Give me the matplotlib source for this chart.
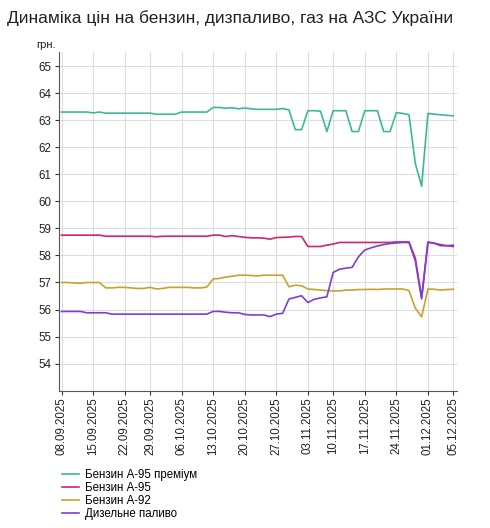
import matplotlib
matplotlib.use('Agg')
import matplotlib.pyplot as plt

# Дані (індекс робочого дня -> ціна, грн.)
tick_idx = [0, 5, 10, 14, 19, 24, 29, 34, 39, 43, 48, 53, 58, 62]
tick_labels = ['08.09.2025', '15.09.2025', '22.09.2025', '29.09.2025', '06.10.2025',
               '13.10.2025', '20.10.2025', '27.10.2025', '03.11.2025', '10.11.2025',
               '17.11.2025', '24.11.2025', '01.12.2025', '05.12.2025']

a95_premium = [63.30, 63.30, 63.30, 63.30, 63.30, 63.27, 63.30, 63.26, 63.26, 63.26,
               63.26, 63.26, 63.26, 63.26, 63.26, 63.22, 63.22, 63.22, 63.22, 63.30,
               63.30, 63.30, 63.30, 63.30, 63.47, 63.47, 63.44, 63.46, 63.42, 63.45,
               63.42, 63.40, 63.40, 63.40, 63.40, 63.43, 63.38, 62.65, 62.65, 63.35,
               63.35, 63.33, 62.58, 63.35, 63.35, 63.35, 62.58, 62.58, 63.35, 63.35,
               63.35, 62.58, 62.58, 63.28, 63.25, 63.20, 61.40, 60.56, 63.25, 63.22,
               63.20, 63.18, 63.16]

a95 = [58.75, 58.75, 58.75, 58.75, 58.75, 58.75, 58.75, 58.71, 58.71, 58.71,
       58.71, 58.71, 58.71, 58.71, 58.71, 58.69, 58.71, 58.71, 58.71, 58.71,
       58.71, 58.71, 58.71, 58.71, 58.75, 58.75, 58.70, 58.73, 58.70, 58.67,
       58.65, 58.65, 58.64, 58.60, 58.66, 58.67, 58.68, 58.70, 58.70, 58.33,
       58.33, 58.33, 58.38, 58.42, 58.48, 58.48, 58.48, 58.48, 58.48, 58.48,
       58.48, 58.48, 58.48, 58.50, 58.50, 58.50, 57.90, 56.45, 58.50, 58.45,
       58.40, 58.36, 58.33]

a92 = [57.00, 57.00, 56.98, 56.97, 57.00, 57.00, 57.00, 56.80, 56.80, 56.82,
       56.82, 56.80, 56.78, 56.78, 56.82, 56.76, 56.78, 56.82, 56.82, 56.82,
       56.82, 56.80, 56.80, 56.83, 57.13, 57.15, 57.20, 57.23, 57.27, 57.27,
       57.26, 57.24, 57.27, 57.27, 57.27, 57.27, 56.84, 56.90, 56.88, 56.76,
       56.74, 56.72, 56.70, 56.69, 56.69, 56.72, 56.72, 56.74, 56.74, 56.75,
       56.74, 56.76, 56.76, 56.76, 56.76, 56.70, 56.05, 55.73, 56.76, 56.75,
       56.72, 56.74, 56.75]

diesel = [55.93, 55.93, 55.93, 55.93, 55.88, 55.88, 55.88, 55.88, 55.83, 55.83,
          55.83, 55.83, 55.83, 55.83, 55.83, 55.83, 55.83, 55.83, 55.83, 55.83,
          55.83, 55.83, 55.83, 55.83, 55.93, 55.93, 55.90, 55.88, 55.88, 55.82,
          55.80, 55.80, 55.80, 55.74, 55.83, 55.86, 56.39, 56.45, 56.51, 56.26,
          56.38, 56.43, 56.47, 57.37, 57.49, 57.53, 57.56, 57.95, 58.20, 58.28,
          58.35, 58.40, 58.44, 58.46, 58.48, 58.48, 57.80, 56.39, 58.48, 58.45,
          58.36, 58.36, 58.38]

series = [
    ('Бензин А-95 преміум', a95_premium, '#3bb99a'),
    ('Бензин А-95', a95, '#d0256c'),
    ('Бензин А-92', a92, '#c9a22c'),
    ('Дизельне паливо', diesel, '#7b3fd6'),
]

plt.rcParams['font.family'] = ['Liberation Sans', 'DejaVu Sans']

fig = plt.figure(figsize=(4.9, 5.28), dpi=100)
ax = fig.add_axes([59 / 490, 1 - 390.7 / 528, 398 / 490, 338.7 / 528])

x = list(range(len(a95_premium)))
for name, values, color in series:
    ax.plot(x, values, color=color, linewidth=1.2, label=name)

ax.set_xlim(-0.4, 62.6)
ax.set_ylim(53, 65.52)
ax.set_yticks(range(54, 66))
ax.set_xticks(tick_idx)
ax.set_xticklabels(tick_labels, rotation=90)
ax.tick_params(axis='both', labelsize=8.3, colors='#333333', length=3, width=0.8)
ax.tick_params(axis='x', labelcolor='#222222', pad=1.5)
ax.tick_params(axis='y', labelcolor='#222222', pad=2.5)

ax.grid(True, color='#dddddd', linewidth=0.8)
ax.set_axisbelow(True)
for side in ['top', 'right']:
    ax.spines[side].set_visible(False)
for side in ['left', 'bottom']:
    ax.spines[side].set_color('#555555')
    ax.spines[side].set_linewidth(0.8)

fig.text(7 / 490, 1 - 18 / 528, 'Динаміка цін на бензин, дизпаливо, газ на АЗС України',
         fontsize=12.5, va='center', ha='left', color='#222222')
fig.text(36 / 490, 1 - 45 / 528, 'грн.', fontsize=8, va='center', ha='left', color='#222222')

fig.legend(loc='upper left', bbox_to_anchor=(62 / 490, 1 - 469 / 528), frameon=False,
           fontsize=8.3, handlelength=1.5, handletextpad=0.5, labelspacing=0.1,
           borderaxespad=0, borderpad=0)

fig.savefig('out.png', dpi=100)
